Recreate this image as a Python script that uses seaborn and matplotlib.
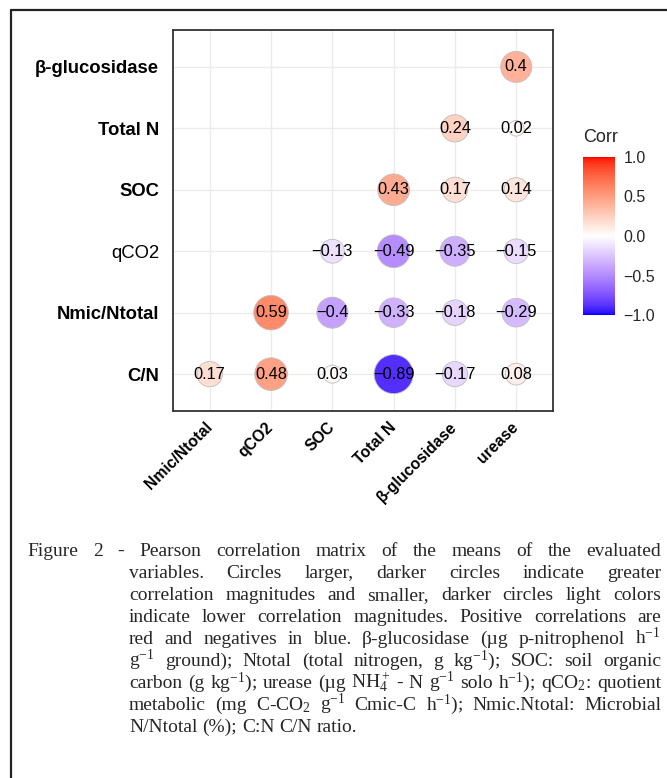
import numpy as np
import pandas as pd
import seaborn as sns
import matplotlib.pyplot as plt
from matplotlib.colors import ListedColormap, Normalize
from matplotlib.cm import ScalarMappable
from matplotlib.lines import Line2D

# variables (x left to right, y bottom to top)
x_vars = ["Nmic/Ntotal", "qCO2", "SOC", "Total N", "β-glucosidase", "urease"]
y_vars = ["C/N", "Nmic/Ntotal", "qCO2", "SOC", "Total N", "β-glucosidase"]
y_bold = [True, True, False, True, True, True]

# correlations per row (bottom to top), None = empty cell
r_cn = [0.17, 0.48, 0.03, -0.89, -0.17, 0.08]
r_nmic = [None, 0.59, -0.40, -0.33, -0.18, -0.29]
r_qco2 = [None, None, -0.13, -0.49, -0.35, -0.15]
r_soc = [None, None, None, 0.43, 0.17, 0.14]
r_totn = [None, None, None, None, 0.24, 0.02]
r_gluc = [None, None, None, None, None, 0.40]
rows = [r_cn, r_nmic, r_qco2, r_soc, r_totn, r_gluc]

cbar_ticks = [-1.0, -0.5, 0.0, 0.5, 1.0]

caption_lines = [
    "Figure 2 - Pearson correlation matrix of the means of the evaluated",
    "variables. Circles larger, darker circles indicate greater",
    "correlation magnitudes and smaller, darker circles light colors",
    "indicate lower correlation magnitudes. Positive correlations are",
    "red and negatives in blue. β-glucosidase (µg p-nitrophenol h$^{-1}$",
    "g$^{-1}$ ground); Ntotal (total nitrogen, g kg$^{-1}$); SOC: soil organic",
    "carbon (g kg$^{-1}$); urease (µg NH$_4^+$ - N g$^{-1}$ solo h$^{-1}$); qCO$_2$: quotient",
    "metabolic (mg C-CO$_2$ g$^{-1}$ Cmic-C h$^{-1}$); Nmic.Ntotal: Microbial",
    "N/Ntotal (%); C:N C/N ratio.",
]

# long table
recs = []
for yi, row in enumerate(rows):
    for xi, v in enumerate(row):
        if v is not None:
            recs.append({"xi": xi, "yi": yi, "r": v, "mag": abs(v)})
df = pd.DataFrame(recs)


# blue - white - red gradient interpolated in Lab space (like ggplot)
M = np.array([[0.4124, 0.3576, 0.1805], [0.2126, 0.7152, 0.0722], [0.0193, 0.1192, 0.9505]])
WP = np.array([0.95047, 1.0, 1.08883])

def srgb_to_lab(c):
    c = np.asarray(c, float)
    lin = np.where(c <= 0.04045, c / 12.92, ((c + 0.055) / 1.055) ** 2.4)
    xyz = M @ lin / WP
    f = np.where(xyz > 0.008856, np.cbrt(xyz), 7.787 * xyz + 16 / 116)
    return np.array([116 * f[1] - 16, 500 * (f[0] - f[1]), 200 * (f[1] - f[2])])

def lab_to_srgb(lab):
    fy = (lab[0] + 16) / 116
    f = np.array([fy + lab[1] / 500, fy, fy - lab[2] / 200])
    xyz = np.where(f > 0.2069, f ** 3, (f - 16 / 116) / 7.787) * WP
    lin = np.clip(np.linalg.inv(M) @ xyz, 0, 1)
    c = np.where(lin <= 0.0031308, 12.92 * lin, 1.055 * lin ** (1 / 2.4) - 0.055)
    return np.clip(c, 0, 1)

lab_b, lab_w, lab_r = srgb_to_lab([0, 0, 1]), srgb_to_lab([1, 1, 1]), srgb_to_lab([1, 0, 0])
cols = []
for t in np.linspace(-1, 1, 256):
    end = lab_b if t < 0 else lab_r
    cols.append(lab_to_srgb(lab_w + abs(t) * (end - lab_w)))
cmap = ListedColormap(cols)

# circle size like scale_size(range = c(4, 10))
W, H = 667, 778
dmax_px = 39
amin, amax = df["mag"].min(), df["mag"].max()
size_dict = {}
for a in df["mag"].unique():
    d = dmax_px * (4 + 6 * np.sqrt((a - amin) / (amax - amin))) / 10
    size_dict[a] = (d * 0.72) ** 2

sns.set_style("white")
plt.rcParams["font.family"] = ["Liberation Sans", "DejaVu Sans"]
plt.rcParams["mathtext.fontset"] = "custom"
plt.rcParams["mathtext.rm"] = "Liberation Serif"
plt.rcParams["mathtext.it"] = "Liberation Serif:italic"

fig = plt.figure(figsize=(W / 100, H / 100), dpi=100)
ax = fig.add_axes([173 / W, 1 - 411 / H, 380 / W, 381 / H])

sns.scatterplot(data=df, x="xi", y="yi", hue="r", palette=cmap, hue_norm=(-1, 1),
                size="mag", sizes=size_dict, edgecolor="#BEBEBE", linewidth=0.6,
                legend=False, ax=ax, zorder=3)

for _, rw in df.iterrows():
    lab = f"{rw['r']:g}".replace("-", "−")
    ax.text(rw["xi"], rw["yi"], lab, ha="center", va="center", fontsize=11.8,
            color="black", zorder=4)

ax.set_xlim(-0.6, 5.6)
ax.set_ylim(-0.6, 5.6)
ax.set_xticks(range(len(x_vars)))
ax.set_xticklabels(x_vars, rotation=45, ha="right", va="center", rotation_mode="anchor",
                   fontsize=11.3, fontweight="bold")
ax.set_yticks(range(len(y_vars)))
ax.set_yticklabels(y_vars, fontsize=13.3)
for lbl, b in zip(ax.get_yticklabels(), y_bold):
    lbl.set_fontweight("bold" if b else "normal")
ax.set_xlabel("")
ax.set_ylabel("")
ax.grid(True, color="#EBEBEB", lw=1)
ax.set_axisbelow(True)
ax.tick_params(length=4, width=1, color="#333333", pad=6, labelcolor="black")
ax.tick_params(axis="x", pad=6)
for sp in ax.spines.values():
    sp.set_color("#333333")
    sp.set_linewidth(1.3)

# colour bar
cax = fig.add_axes([583 / W, 1 - 315 / H, 32 / W, 158 / H])
cb = fig.colorbar(ScalarMappable(norm=Normalize(-1, 1), cmap=cmap), cax=cax, ticks=cbar_ticks)
cb.outline.set_visible(False)
cax.set_yticklabels([f"{t:.1f}".replace("-", "−") for t in cbar_ticks])
cax.tick_params(direction="in", length=6, width=1, color="white", left=True, right=True,
                labelsize=11.5, pad=6)
fig.text(583 / W, 1 - 137 / H, "Corr", fontsize=13, va="center")

# outer frame
fig.add_artist(Line2D([11 / W, 11 / W], [0, 1 - 10 / H], color="#222222", lw=1.6))
fig.add_artist(Line2D([11 / W, 1], [1 - 10 / H, 1 - 10 / H], color="#222222", lw=1.6))

# justified caption
renderer = fig.canvas.get_renderer()
x_first, x_rest, x_end = 27, 129, 661
base0, lead = 556, 22
for i, line in enumerate(caption_lines):
    words = line.split(" ")
    x0 = x_first if i == 0 else x_rest
    y = 1 - (base0 + i * lead) / H
    texts = [fig.text(0, y, w, fontsize=14, family="Liberation Serif", va="baseline")
             for w in words]
    widths = [t.get_window_extent(renderer).width for t in texts]
    if i < len(caption_lines) - 1:
        gap = (x_end - x0 - sum(widths)) / (len(words) - 1)
    else:
        gap = 4.9
    x = x0
    for t, w in zip(texts, widths):
        t.set_x(x / W)
        x += w + gap

fig.savefig("out.png", dpi=100)
